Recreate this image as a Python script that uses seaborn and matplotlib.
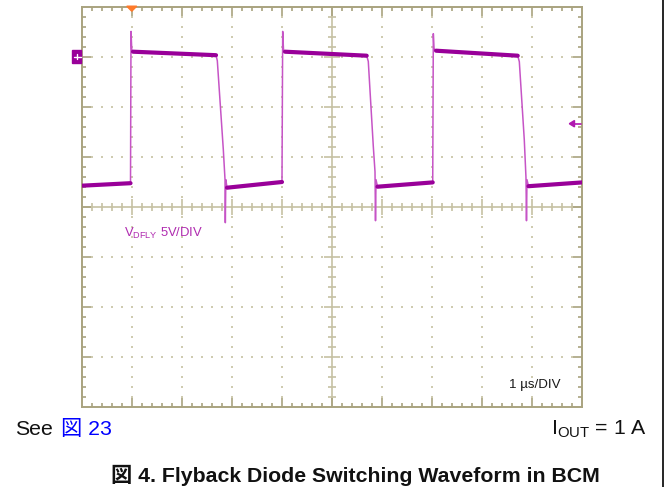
import numpy as np
import pandas as pd
import matplotlib
matplotlib.use("Agg")
import matplotlib.pyplot as plt
import seaborn as sns
from matplotlib.patches import Polygon, Rectangle
from matplotlib.lines import Line2D
from matplotlib.collections import LineCollection

# ---------------- data ----------------
time_us = [0.000, 0.975, 0.985, 1.000, 1.025, 2.683, 2.709, 2.829, 2.863, 2.869,
           2.879, 2.903, 4.001, 4.015, 4.031, 4.061, 5.693, 5.725, 5.825, 5.859,
           5.869, 5.879, 5.909, 7.012, 7.024, 7.038, 7.078, 8.710, 8.742, 8.841,
           8.875, 8.885, 8.895, 8.925, 10.000]
volts = [-12.90, -12.65, 2.53, 0.70, 0.50, 0.15, -0.40, -9.30, -12.30, -16.60,
         -12.30, -13.10, -12.53, 2.53, 0.70, 0.50, 0.10, -0.47, -8.97, -11.50,
         -16.40, -12.30, -13.00, -12.57, 2.30, 0.80, 0.60, 0.10, -0.50, -8.30,
         -12.10, -16.40, -12.30, -12.95, -12.57]

trigger_time_us = 1.0
trigger_level_v = -6.7
ground_level_v = 0.0
x_divs, y_divs = 10, 8
us_per_div, v_per_div = 1.0, 5.0
v_top = 5.0

trace_label = r"$\mathrm{V}_{\mathrm{DFLY}}$ 5V/DIV"
time_label = "1 µs/DIV"
left_note_a = "See"
left_note_b = "図 23"
right_note = r"$\mathrm{I}_{\mathrm{OUT}}$ = 1 A"
caption = "図 4. Flyback Diode Switching Waveform in BCM"

# ---------------- style ----------------
W, H = 669, 487
sns.set_theme(style="white")
plt.rcParams["font.family"] = ["Liberation Sans", "Noto Sans CJK JP"]
plt.rcParams["mathtext.fontset"] = "custom"
plt.rcParams["mathtext.rm"] = "Liberation Sans"
plt.rcParams["mathtext.it"] = "Liberation Sans:italic"
plt.rcParams["mathtext.bf"] = "Liberation Sans:bold"

BORDER = "#a9a37f"
CENTER = "#c6c1a3"
DOTS = "#cfcbb0"
TRACE_DARK = "#990099"
TRACE_LIGHT = "#c654c6"
LABEL_PURPLE = "#b02cb0"

fig = plt.figure(figsize=(W / 100, H / 100), dpi=100)
L, R, T, B = 81.7, 582.3, 6.7, 406.7
ax = fig.add_axes([L / W, 1 - B / H, (R - L) / W, (B - T) / H])

xmin, xmax = 0.0, x_divs * us_per_div
ymax = v_top
ymin = v_top - y_divs * v_per_div
ax.set_xlim(xmin, xmax)
ax.set_ylim(ymin, ymax)
ax.set_xticks([]); ax.set_yticks([])
for s in ax.spines.values():
    s.set_color(BORDER); s.set_linewidth(1.4)

sx = (R - L) / (xmax - xmin)   # px per us
sy = (B - T) / (ymax - ymin)   # px per V
xc = (xmin + xmax) / 2
yc = (ymin + ymax) / 2

# dotted graticule
dx, dy = [], []
sub_x = us_per_div / 5
sub_y = v_per_div / 5
for i in range(1, x_divs):
    xv = xmin + i * us_per_div
    if abs(xv - xc) < 1e-9:
        continue
    for yv in np.arange(ymin + sub_y, ymax - 1e-9, sub_y):
        dx.append(xv); dy.append(yv)
for j in range(1, y_divs):
    yv = ymin + j * v_per_div
    if abs(yv - yc) < 1e-9:
        continue
    for xv in np.arange(xmin + sub_x, xmax - 1e-9, sub_x):
        dx.append(xv); dy.append(yv)
ax.scatter(dx, dy, s=1.1, color=DOTS, marker="s", linewidths=0, zorder=1)

# center cross
ax.axvline(xc, color=CENTER, lw=1.2, zorder=1)
ax.axhline(yc, color=CENTER, lw=1.2, zorder=1)
segs_c, segs_b = [], []
for k, xv in enumerate(np.arange(xmin + sub_x, xmax - 1e-9, sub_x), start=1):
    major = (k % 5 == 0)
    h = (8 if major else 4) / sy
    segs_c.append([(xv, yc - h), (xv, yc + h)])
    lb = (9 if major else 4) / sy
    segs_b.append([(xv, ymin), (xv, ymin + lb)])
    segs_b.append([(xv, ymax), (xv, ymax - lb)])
for k, yv in enumerate(np.arange(ymin + sub_y, ymax - 1e-9, sub_y), start=1):
    major = (k % 5 == 0)
    h = (8 if major else 4) / sx
    segs_c.append([(xc - h, yv), (xc + h, yv)])
    lb = (9 if major else 4) / sx
    segs_b.append([(xmin, yv), (xmin + lb, yv)])
    segs_b.append([(xmax, yv), (xmax - lb, yv)])
ax.add_collection(LineCollection(segs_c, colors=CENTER, linewidths=1.2, zorder=1))
ax.add_collection(LineCollection(segs_b, colors=BORDER, linewidths=1.2, zorder=1))

# trace: thin full waveform, thick noisy plateaus
df = pd.DataFrame({"t": time_us, "v": volts})
sns.lineplot(data=df, x="t", y="v", ax=ax, color=TRACE_LIGHT, lw=1.1,
             estimator=None, sort=False, zorder=3)
rows = []
seg = 0
for i in range(len(time_us) - 1):
    dt = time_us[i + 1] - time_us[i]
    dv = volts[i + 1] - volts[i]
    if dt > 0.05 and abs(dv / dt) < 3:
        rows.append((time_us[i], volts[i], seg))
        rows.append((time_us[i + 1], volts[i + 1], seg))
        seg += 1
pl = pd.DataFrame(rows, columns=["t", "v", "seg"])
sns.lineplot(data=pl, x="t", y="v", units="seg", ax=ax, color=TRACE_DARK, lw=3.0,
             estimator=None, sort=False, zorder=4, legend=False)
ax.set_xlabel(""); ax.set_ylabel("")


def px(x_data, y_data):
    return L + (x_data - xmin) * sx, T + (ymax - y_data) * sy


def f(xp, yp):
    return (xp / W, 1 - yp / H)


# trigger position marker (top, orange)
tx, _ = px(trigger_time_us, ymax)
fig.add_artist(Polygon([f(tx - 5, T - 0.5), f(tx + 5, T - 0.5), f(tx, T + 4.5)],
                       closed=True, color="#ff7a2a", transform=fig.transFigure, zorder=6))

# ground reference marker (left)
_, gy = px(xmin, ground_level_v)
fig.add_artist(Rectangle(f(72.3, gy + 6.6), 8.7 / W, 13.2 / H, color=TRACE_DARK,
                         transform=fig.transFigure, zorder=6))
fig.add_artist(Line2D([74 / W, 80.5 / W], [1 - gy / H] * 2, color="white", lw=1.0,
                      transform=fig.transFigure, zorder=7))
fig.add_artist(Line2D([76.7 / W] * 2, [1 - (gy - 2.5) / H, 1 - (gy + 2.5) / H],
                      color="white", lw=1.0, transform=fig.transFigure, zorder=7))

# trigger level marker (right)
_, ly = px(xmax, trigger_level_v)
fig.add_artist(Line2D([572 / W, 581 / W], [1 - ly / H] * 2, color="#b018b0", lw=1.2,
                      transform=fig.transFigure, zorder=7))
fig.add_artist(Polygon([f(569.3, ly), f(574.5, ly - 3.2), f(574.5, ly + 3.2)],
                       closed=True, color="#b018b0", transform=fig.transFigure, zorder=7))

# texts
fig.text(124 / W, 1 - 236.7 / H, trace_label, color=LABEL_PURPLE, fontsize=9.4, va="baseline")
fig.text(509 / W, 1 - 388.3 / H, time_label, color="#1a1a1a", fontsize=9.6, va="baseline")
fig.text(15 / W, 1 - 435 / H, left_note_a, color="#111111", fontsize=15.3, va="baseline")
fig.text(60.5 / W, 1 - 435 / H, left_note_b, color="#0000ff", fontsize=15.3, va="baseline")
fig.text(647 / W, 1 - 435 / H, right_note, color="#111111", fontsize=15.3, va="baseline",
         ha="right")
fig.text(355.5 / W, 1 - 481.7 / H, caption, color="#111111", fontsize=15.3, va="baseline",
         ha="center", fontweight="bold")

# page frame line at right
fig.add_artist(Line2D([663 / W] * 2, [0, 1], color="black", lw=1.2, transform=fig.transFigure))

fig.savefig("out.png", dpi=100)
